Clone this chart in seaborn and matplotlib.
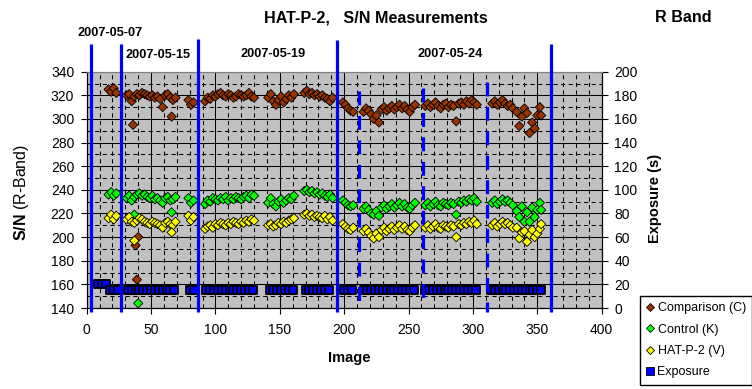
import pandas as pd
import seaborn as sns
import matplotlib.pyplot as plt
from matplotlib.lines import Line2D

# image numbers where the three stars were measured (one block per run)
IMAGE = (
    [17, 19, 21, 23]
    + [31, 33, 35, 37, 39, 41, 43, 45, 47, 49, 51, 53, 55, 57, 59, 61, 63, 65, 67, 69]
    + [79, 81, 83]
    + [92, 94, 96, 98, 100, 102, 104, 106, 108, 110, 112, 114, 116, 118, 120, 122, 124, 126, 128, 130]
    + [141, 143, 145, 147, 149, 151, 153, 155, 157, 159, 161]
    + [169, 171, 173, 175, 177, 179, 181, 183, 185, 187, 189, 191]
    + [199, 201, 203, 205, 207]
    + [215, 217, 219, 221, 223, 225, 227, 229, 231, 233, 235, 237, 239, 241, 243, 245, 247, 249, 251, 253, 255]
    + [263, 265, 267, 269, 271, 273, 275, 277, 279, 281, 283, 285, 287, 289, 291, 293, 295, 297, 299, 301, 303]
    + [315, 317, 319, 321, 323, 325, 327, 329, 331]
    + [334, 336, 338, 340, 342, 344, 346, 348, 350, 352]
)

COMPARISON = (
    [325, 323, 326, 322]
    + [320, 321, 315, 319, 321, 320, 322, 321, 320, 319, 320, 318, 319, 317, 310, 320, 321, 318, 316, 318]
    + [316, 312, 314]
    + [315, 318, 317, 320, 319, 321, 322, 320, 319, 321, 320, 318, 319, 321, 320, 319, 320, 322, 319, 318]
    + [318, 321, 315, 312, 316, 319, 314, 317, 320, 318, 321]
    + [322, 324, 321, 322, 320, 321, 319, 320, 318, 317, 315, 318]
    + [314, 312, 309, 307, 306]
    + [306, 309, 307, 304, 300, 303, 297, 308, 310, 307, 309, 311, 308, 310, 312, 309, 311, 308, 306, 310, 312]
    + [311, 313, 310, 312, 314, 311, 309, 312, 313, 310, 312, 311, 298, 313, 314, 312, 315, 313, 316, 314, 312]
    + [313, 315, 312, 314, 316, 313, 311, 312, 309]
    + [306, 294, 302, 309, 305, 288, 297, 292, 303, 310]
)

CONTROL = (
    [236, 238, 235, 237]
    + [233, 235, 231, 234, 236, 237, 235, 236, 234, 233, 235, 232, 233, 231, 229, 233, 234, 231, 232, 234]
    + [233, 229, 231]
    + [228, 231, 230, 233, 232, 231, 233, 232, 234, 231, 233, 232, 234, 233, 232, 234, 235, 233, 236, 235]
    + [229, 233, 228, 226, 230, 232, 229, 231, 233, 232, 235]
    + [239, 240, 238, 239, 237, 238, 236, 237, 235, 234, 236, 233]
    + [231, 229, 227, 226, 227]
    + [224, 226, 223, 220, 219, 222, 218, 225, 227, 224, 226, 228, 225, 227, 229, 226, 228, 225, 224, 227, 229]
    + [227, 229, 226, 228, 230, 227, 226, 229, 228, 227, 229, 228, 219, 230, 229, 231, 230, 232, 231, 233, 230]
    + [229, 231, 228, 230, 232, 230, 231, 229, 227]
    + [222, 217, 226, 213, 221, 213, 225, 217, 223, 229]
)

HATP2 = (
    [216, 219, 215, 218]
    + [215, 217, 213, 212, 214, 216, 215, 213, 212, 211, 213, 212, 211, 210, 208, 212, 213, 211, 210, 213]
    + [218, 214, 217]
    + [207, 209, 210, 208, 211, 210, 212, 211, 210, 212, 211, 213, 212, 211, 213, 212, 214, 213, 215, 214]
    + [210, 211, 209, 210, 212, 211, 213, 212, 214, 215, 216]
    + [219, 220, 218, 219, 217, 218, 217, 216, 218, 215, 217, 214]
    + [211, 209, 207, 206, 208]
    + [205, 207, 204, 201, 199, 203, 200, 206, 208, 205, 207, 209, 206, 208, 210, 207, 209, 206, 205, 208, 210]
    + [208, 210, 207, 209, 211, 208, 207, 210, 209, 208, 210, 209, 200, 211, 210, 212, 211, 213, 212, 214, 211]
    + [210, 212, 209, 211, 213, 211, 212, 210, 208]
    + [208, 199, 204, 205, 196, 202, 206, 200, 203, 207]
)

# stray points
COMP_EXTRA_X = [36, 40, 38, 39, 66, 353]
COMP_EXTRA_Y = [295, 200, 193, 164, 302, 303]
CTRL_EXTRA_X = [37, 66, 40, 353]
CTRL_EXTRA_Y = [219, 221, 144, 223]
HAT_EXTRA_X = [37, 66, 353]
HAT_EXTRA_Y = [197, 204, 211]

EXP_IMAGE = (
    [9, 12, 15, 18, 21, 24]
    + [32, 35, 38, 41, 44, 47, 50, 53, 56, 59, 62, 65, 68]
    + [80, 83]
    + [93, 96, 99, 102, 105, 108, 111, 114, 117, 120, 123, 126, 129]
    + [142, 145, 148, 151, 154, 157, 160]
    + [170, 173, 176, 179, 182, 185, 188]
    + [200, 203, 206]
    + [215, 218, 221, 224, 227, 230, 233, 236, 239, 242, 245, 248, 251, 254]
    + [263, 266, 269, 272, 275, 278, 281, 284, 287, 290, 293, 296, 299, 302]
    + [314, 317, 320, 323, 326, 329, 332, 335, 338, 341, 344, 347, 350, 353]
)
EXPOSURE = (
    [20, 20, 20, 15, 15, 15]
    + [15, 15, 15, 15, 15, 15, 15, 15, 15, 15, 15, 15, 15]
    + [15, 15]
    + [15, 15, 15, 15, 15, 15, 15, 15, 15, 15, 15, 15, 15]
    + [15, 15, 15, 15, 15, 15, 15]
    + [15, 15, 15, 15, 15, 15, 15]
    + [15, 15, 15]
    + [15, 15, 15, 15, 15, 15, 15, 15, 15, 15, 15, 15, 15, 15]
    + [15, 15, 15, 15, 15, 15, 15, 15, 15, 15, 15, 15, 15, 15]
    + [15, 15, 15, 15, 15, 15, 15, 15, 15, 15, 15, 15, 15, 15]
)

# night separators and the dates written above them
NIGHT_X = [3.3, 26.6, 86.2, 194.7, 360.4]
NIGHT_TOP = [363.4, 363.4, 367.7, 366.8, 363.4]
SEQ_X = [211.5, 261.2, 310.7]
SEQ_TOP = [323.6, 325.9, 331.0]
SEQ_BOTTOM = [144.2, 147.0, 136.4]
DATES = ['2007-05-07', '2007-05-15', '2007-05-19', '2007-05-24']
DATE_X = [18.2, 55.1, 144.7, 282.2]
DATE_Y = [373, 354, 355, 355]

STAR_COLORS = {'Comparison (C)': '#993300', 'Control (K)': '#00FF00', 'HAT-P-2 (V)': '#FFFF00'}

plt.rcParams['font.family'] = ['Liberation Sans', 'DejaVu Sans']
plt.rcParams['mathtext.fontset'] = 'custom'
plt.rcParams['mathtext.rm'] = 'Liberation Sans'
plt.rcParams['mathtext.bf'] = 'Liberation Sans:bold'
plt.rcParams['lines.scale_dashes'] = False

stars = pd.concat([
    pd.DataFrame({'image': IMAGE + COMP_EXTRA_X, 'sn': COMPARISON + COMP_EXTRA_Y, 'star': 'Comparison (C)'}),
    pd.DataFrame({'image': IMAGE + CTRL_EXTRA_X, 'sn': CONTROL + CTRL_EXTRA_Y, 'star': 'Control (K)'}),
    pd.DataFrame({'image': IMAGE + HAT_EXTRA_X, 'sn': HATP2 + HAT_EXTRA_Y, 'star': 'HAT-P-2 (V)'}),
], ignore_index=True)
exposure = pd.DataFrame({'image': EXP_IMAGE, 'exposure': EXPOSURE})

fig = plt.figure(figsize=(7.52, 3.89), dpi=100)
ax = fig.add_axes([0.1153, 0.2082, 0.6848, 0.6075])
ax.set_facecolor('#C0C0C0')

sns.scatterplot(data=stars, x='image', y='sn', hue='star', palette=STAR_COLORS,
                marker='D', s=22, edgecolor='black', linewidth=0.6, legend=False, ax=ax, zorder=3)

ax.set_xlim(0, 400)
ax.set_ylim(140, 340)
ax.set_xticks(range(0, 401, 50))
ax.set_yticks(range(140, 341, 20))
ax.set_xticks(range(0, 401, 10), minor=True)
ax.set_yticks(range(140, 341, 10), minor=True)
ax.grid(which='major', color='black', lw=0.75)
ax.grid(which='minor', color='black', lw=0.75, ls=(0, (3, 2.5)))
ax.set_axisbelow(True)
ax.tick_params(which='minor', length=0)
ax.tick_params(which='major', direction='out', length=4, width=0.8, labelsize=10, colors='black')
ax.tick_params(axis='y', pad=5)
ax.tick_params(axis='x', pad=7)
ax.set_xlabel('')
ax.set_ylabel('')
for side in ['left', 'bottom', 'right']:
    ax.spines[side].set_color('black')
ax.spines['top'].set_color('#808080')

ax2 = ax.twinx()
sns.scatterplot(data=exposure, x='image', y='exposure', marker='s', color='#0000FF',
                s=34, edgecolor='black', linewidth=1.3, legend=False, ax=ax2, zorder=3)
ax2.set_ylim(0, 200)
ax2.set_yticks(range(0, 201, 20))
ax2.set_xlim(0, 400)
ax2.set_ylabel('')
ax2.set_xlabel('')
ax2.tick_params(direction='out', length=4, width=0.8, labelsize=10, colors='black', pad=5)
ax2.spines['right'].set_color('black')
ax2.spines['top'].set_color('#808080')

# separators drawn on top of everything, in left-axis units
for x, top in zip(NIGHT_X, NIGHT_TOP):
    ax2.plot([x, x], [top, 136.6], transform=ax.transData, color='#0000FF', lw=2.3,
             clip_on=False, solid_capstyle='butt', zorder=5)
for x, top, bot in zip(SEQ_X, SEQ_TOP, SEQ_BOTTOM):
    ax2.plot([x, x], [top, bot], transform=ax.transData, color='#0000FF', lw=2.3,
             ls=(0, (10, 7.6)), clip_on=False, dash_capstyle='butt', zorder=5)
for label, x, y in zip(DATES, DATE_X, DATE_Y):
    ax.text(x, y, label, ha='center', va='center', fontsize=9.2, weight='bold', clip_on=False)

fig.text(0.5, 1 - 18 / 389, 'HAT-P-2,   S/N Measurements', ha='center', va='center',
         fontsize=11.6, weight='bold')
fig.text(683 / 752, 1 - 18 / 389, 'R Band', ha='center', va='center',
         fontsize=11.6, weight='bold')
fig.text(349 / 752, 1 - 358 / 389, 'Image', ha='center', va='center',
         fontsize=10.5, weight='bold')
fig.text(22 / 752, 1 - 192 / 389, r'$\mathbf{S/N}$ (R-Band)', ha='center', va='center',
         rotation=90, fontsize=11.5)
fig.text(655 / 752, 1 - 198 / 389, 'Exposure (s)', ha='center', va='center',
         rotation=90, fontsize=10.5, weight='bold')

handles = [Line2D([], [], ls='none', marker='D', markersize=3.8, markerfacecolor=c,
                  markeredgecolor='black', markeredgewidth=0.6) for c in STAR_COLORS.values()]
handles.append(Line2D([], [], ls='none', marker='s', markersize=5.5, markerfacecolor='#0000FF',
                      markeredgecolor='black', markeredgewidth=0.6))
labels = list(STAR_COLORS) + ['Exposure']
leg = fig.legend(handles, labels, loc='upper left', bbox_to_anchor=(640 / 752, 1 - 296 / 389),
                 frameon=True, fancybox=False, framealpha=1, edgecolor='black', fontsize=9,
                 handlelength=0.6, handletextpad=0.3, labelspacing=0.75, borderpad=0.5,
                 borderaxespad=0)
leg.get_frame().set_linewidth(1.0)

fig.savefig('out.png', dpi=100)
